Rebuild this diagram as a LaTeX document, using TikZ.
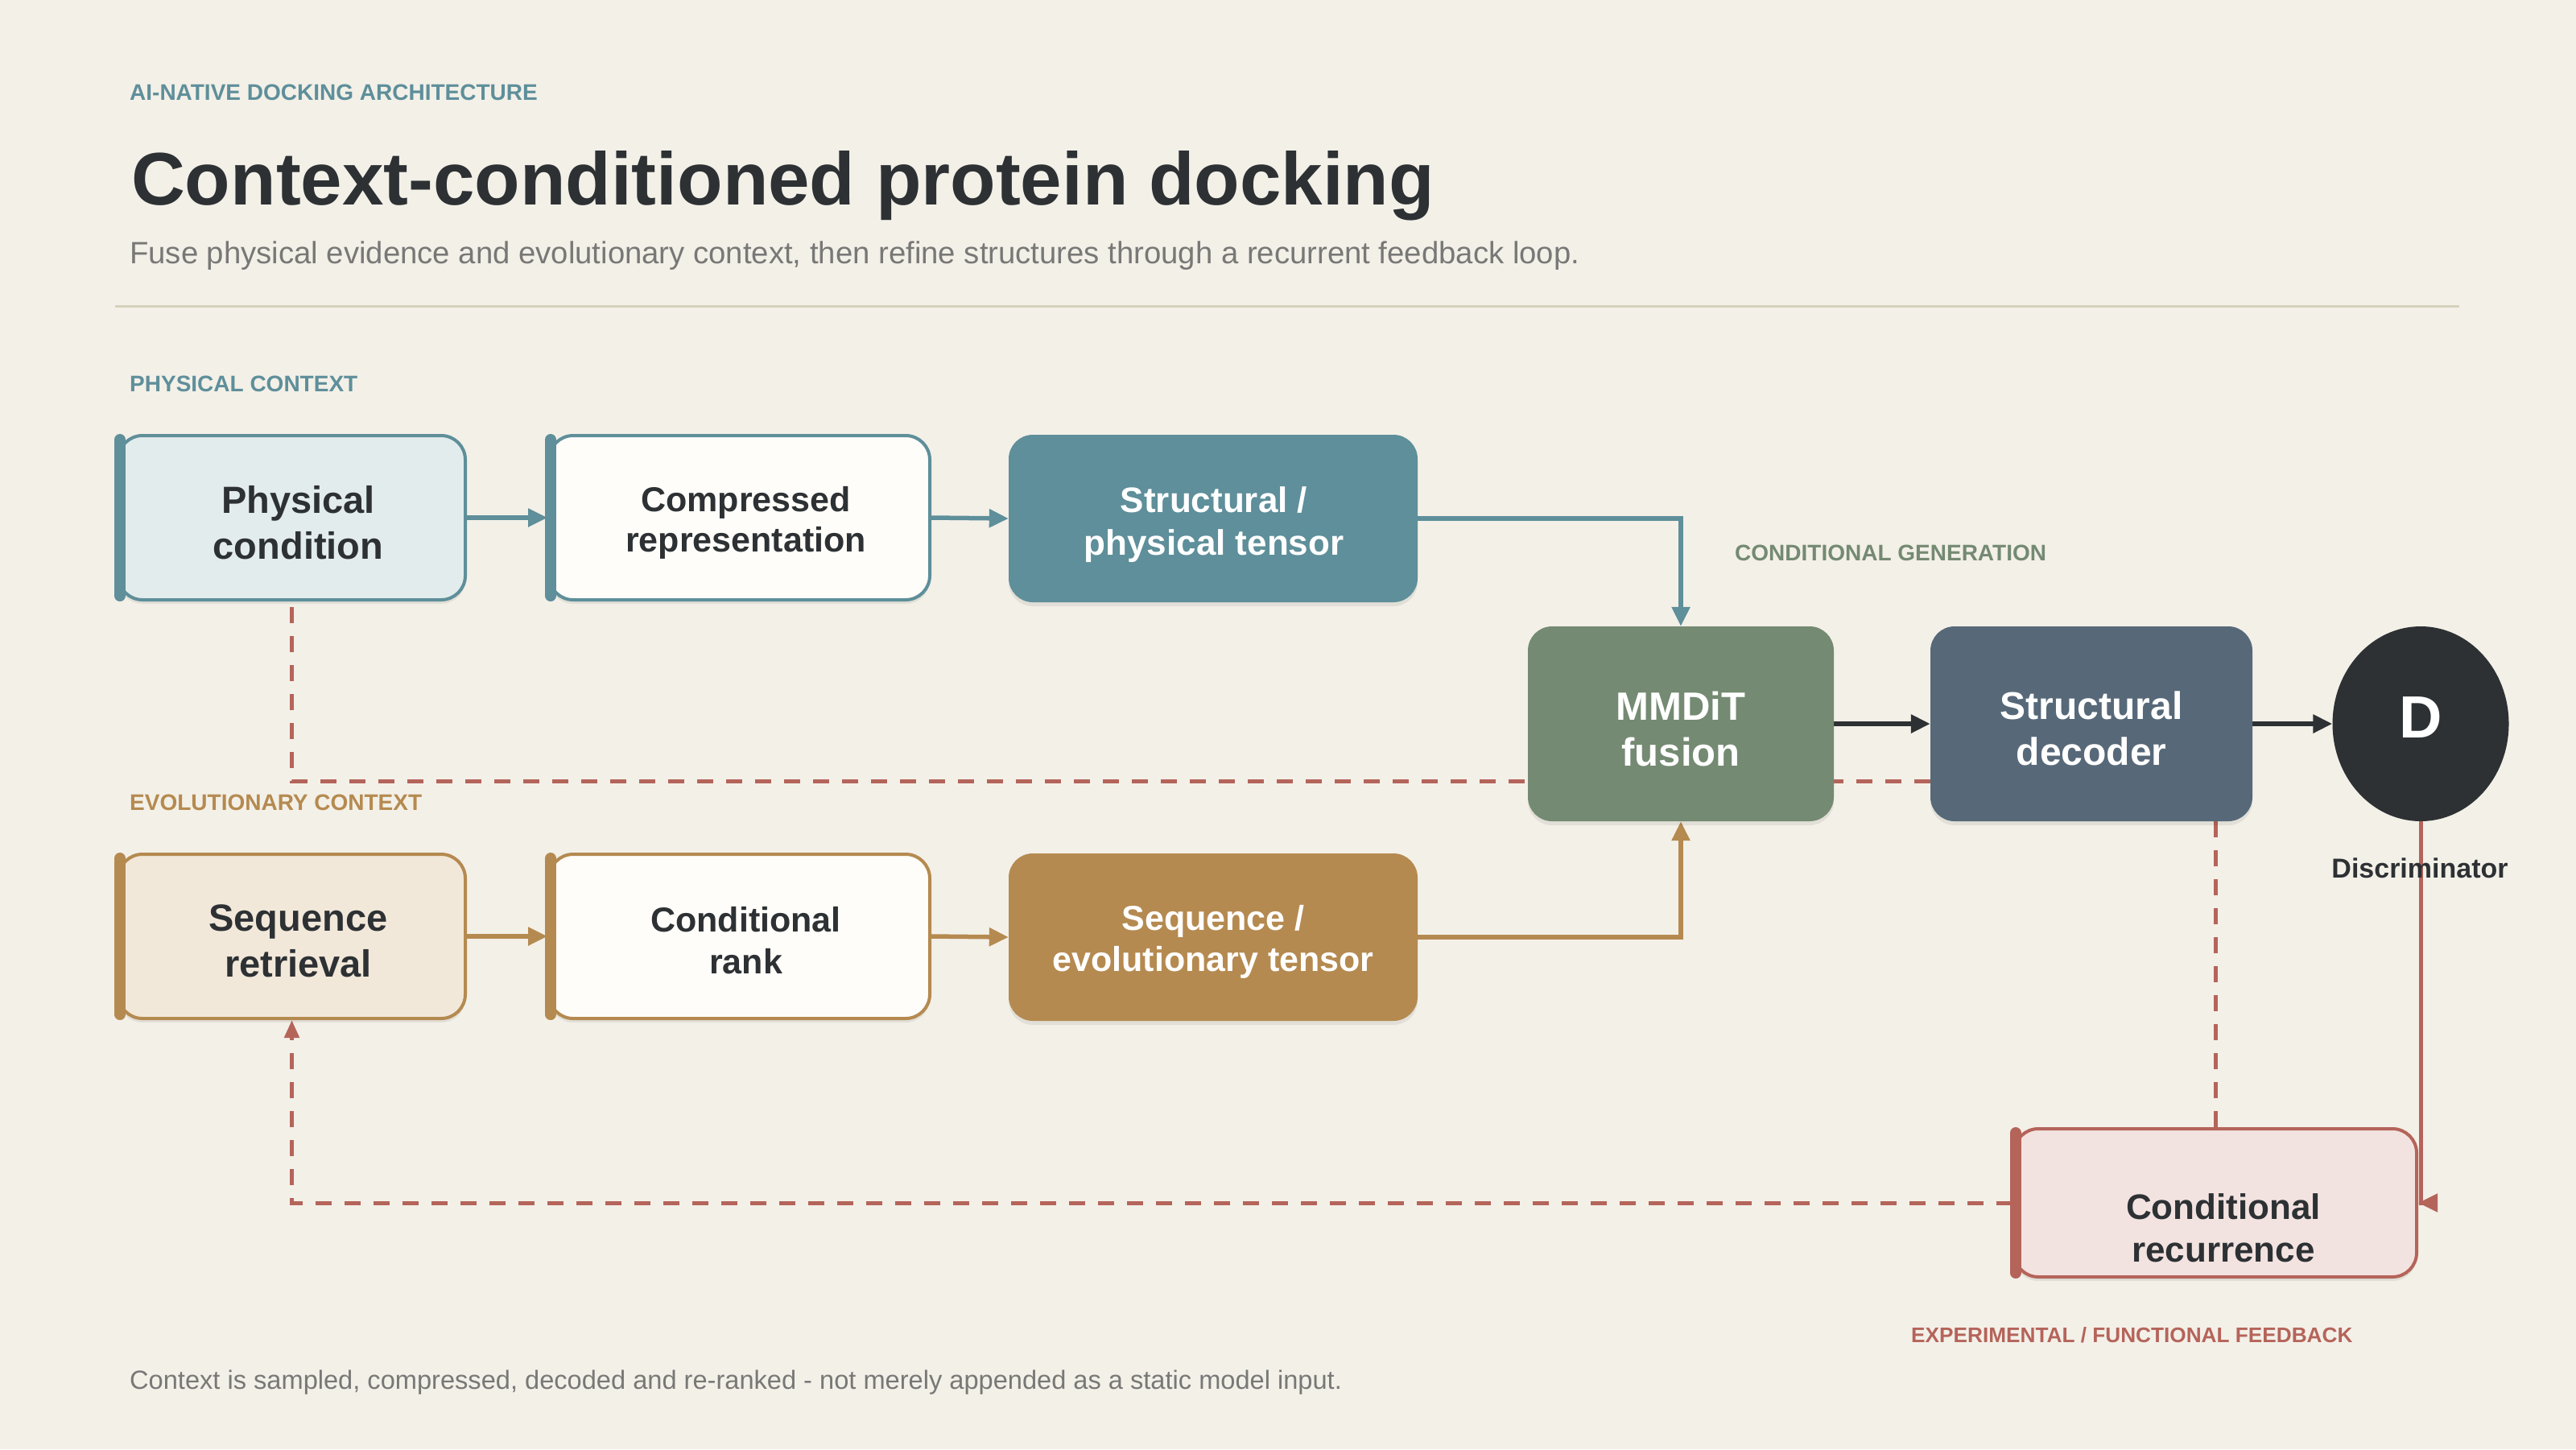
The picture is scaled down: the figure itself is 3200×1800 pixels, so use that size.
\documentclass[tikz,border=0pt]{standalone}
\usepackage{fontspec}
\setmainfont{Liberation Sans}
\usetikzlibrary{arrows.meta,shapes.geometric,backgrounds,shadows}
\definecolor{cbg}{HTML}{F3F0E8}
\definecolor{cteal}{HTML}{5E8F9A}
\definecolor{ctealfill}{HTML}{E3ECEC}
\definecolor{cochre}{HTML}{B58A50}
\definecolor{cochrefill}{HTML}{F2E8DA}
\definecolor{csage}{HTML}{748A72}
\definecolor{cslate}{HTML}{576979}
\definecolor{cink}{HTML}{2D3134}
\definecolor{crust}{HTML}{B5645A}
\definecolor{crustfill}{HTML}{F3E3E0}
\definecolor{cpaper}{HTML}{FFFDF9}
\definecolor{csub}{HTML}{787876}
\definecolor{crule}{HTML}{D5D2BC}
\tikzset{
  softshadow/.style={drop shadow={shadow xshift=0pt, shadow yshift=-5pt, opacity=0.07, fill=black}},
  obox/.style n args={2}{draw=#1, fill=#2, line width=4pt, rounded corners=30pt, inner sep=0pt, softshadow},
  fbox/.style={fill=#1, draw=none, rounded corners=30pt, inner sep=0pt, softshadow},
  btxt/.style={inner sep=0pt, align=center, text=cink},
  wtxt/.style={inner sep=0pt, align=center, text=white},
  accent/.style={line width=14pt, line cap=round, draw=#1},
  kick/.style={anchor=base west, inner sep=0pt, font=\fontsize{28}{32}\selectfont\bfseries},
  tealline/.style={draw=cteal, line width=5.5pt, -{Triangle[length=24pt,width=22pt]}},
  ochreline/.style={draw=cochre, line width=5.5pt, -{Triangle[length=24pt,width=22pt]}},
  inkline/.style={draw=cink, line width=6pt, -{Triangle[length=24pt,width=22pt]}},
  fbdash/.style={draw=crust, line width=5pt, dash pattern=on 20pt off 16pt},
  fbsolid/.style={draw=crust, line width=5pt},
}
\begin{document}
\begin{tikzpicture}[x=1pt,y=-1pt]
\begin{pgfonlayer}{background}
\fill[cbg] (0,0) rectangle (3200,1800);
\end{pgfonlayer}
\useasboundingbox (0,0) rectangle (3200,1800);

% header
\node[kick, text=cteal] (kicker) at (161,124) {AI-NATIVE DOCKING ARCHITECTURE};
\node[anchor=base west, inner sep=0pt, font=\fontsize{92.5}{100}\selectfont\bfseries, text=cink] (title) at (163,254) {Context-conditioned protein docking};
\node[anchor=base west, inner sep=0pt, font=\fontsize{38.3}{44}\selectfont, text=csub] (subtitle) at (161,327) {Fuse physical evidence and evolutionary context, then refine structures through a recurrent feedback loop.};
\draw[crule, line width=3pt] (143,380) -- (3055,380);

% section labels
\node[kick, text=cteal] (physlab) at (161,486) {PHYSICAL CONTEXT};
\node[kick, text=cochre] (evolab) at (161,1006) {EVOLUTIONARY CONTEXT};
\node[kick, text=csage] (genlab) at (2155,696) {CONDITIONAL GENERATION};
\node[kick, text=crust, font=\fontsize{26.2}{32}\selectfont\bfseries] (fblab) at (2374,1667) {EXPERIMENTAL / FUNCTIONAL FEEDBACK};
\node[anchor=base west, inner sep=0pt, font=\fontsize{32.6}{38}\selectfont, text=csub] (footer) at (161,1725) {Context is sampled, compressed, decoded and re-ranked - not merely appended as a static model input.};

% physical row
\node[obox={cteal}{ctealfill}, minimum width=431pt, minimum height=204pt] (phys) at (362.5,643) {};
\node[btxt, font=\fontsize{47}{57}\selectfont\bfseries] (physT) at ([xshift=8pt,yshift=-6pt]phys.center) {Physical\\condition};
\node[obox={cteal}{cpaper}, minimum width=473pt, minimum height=204pt] (comp) at (918.5,643) {};
\node[btxt, font=\fontsize{43}{50}\selectfont\bfseries] (compT) at ([xshift=8pt,yshift=-6pt]comp.center) {Compressed\\representation};
\node[fbox=cteal, minimum width=508pt, minimum height=208pt] (stens) at (1507,644) {};
\node[wtxt, font=\fontsize{44}{53}\selectfont\bfseries] (stensT) at ([xshift=1pt,yshift=-8pt]stens.center) {Structural /\\physical tensor};

% evolutionary row
\node[obox={cochre}{cochrefill}, minimum width=431pt, minimum height=204pt] (seq) at (362.5,1163) {};
\node[btxt, font=\fontsize{47}{57}\selectfont\bfseries] (seqT) at ([xshift=8pt,yshift=-6pt]seq.center) {Sequence\\retrieval};
\node[obox={cochre}{cpaper}, minimum width=473pt, minimum height=204pt] (rank) at (918.5,1163) {};
\node[btxt, font=\fontsize{43}{52}\selectfont\bfseries] (rankT) at ([xshift=8pt,yshift=-5pt]rank.center) {Conditional\\rank};
\node[fbox=cochre, minimum width=508pt, minimum height=208pt] (etens) at (1507,1164) {};
\node[wtxt, font=\fontsize{43}{51}\selectfont\bfseries] (etensT) at ([yshift=-6pt]etens.center) {Sequence /\\evolutionary tensor};

% generation
\node[fbox=csage, minimum width=380pt, minimum height=242pt] (mmdit) at (2088,899) {};
\node[wtxt, font=\fontsize{49}{57}\selectfont\bfseries] (mmditT) at ([yshift=-6pt]mmdit.center) {MMDiT\\fusion};
\node[fbox=cslate, minimum width=400pt, minimum height=242pt] (dec) at (2598,899) {};
\node[wtxt, font=\fontsize{48}{57}\selectfont\bfseries] (decT) at ([yshift=-6pt]dec.center) {Structural\\decoder};
\node[ellipse, fill=cink, minimum width=219pt, minimum height=242pt, inner sep=0pt, text=white, text depth=16pt, font=\fontsize{74}{80}\selectfont\bfseries] (D) at (3007,899) {D};
\node[inner sep=0pt, font=\fontsize{34}{40}\selectfont\bfseries, text=cink] (disc) at (3006,1078) {Discriminator};

% feedback
\node[obox={crust}{crustfill}, minimum width=500pt, minimum height=184pt] (rec) at (2752,1494) {};
\node[btxt, font=\fontsize{44}{53}\selectfont\bfseries] (recT) at ([xshift=10pt,yshift=-31pt]rec.center) {Conditional\\recurrence};

% accent bars
\draw[accent=cteal] ([xshift=4pt,yshift=-7pt]phys.north west) -- ([xshift=4pt,yshift=7pt]phys.south west);
\draw[accent=cteal] ([xshift=4pt,yshift=-7pt]comp.north west) -- ([xshift=4pt,yshift=7pt]comp.south west);
\draw[accent=cochre] ([xshift=4pt,yshift=-7pt]seq.north west) -- ([xshift=4pt,yshift=7pt]seq.south west);
\draw[accent=cochre] ([xshift=4pt,yshift=-7pt]rank.north west) -- ([xshift=4pt,yshift=7pt]rank.south west);
\draw[accent=crust] ([xshift=4pt,yshift=-7pt]rec.north west) -- ([xshift=4pt,yshift=7pt]rec.south west);

% connectors
\begin{pgfonlayer}{background}
\draw[fbdash] ([yshift=50pt]dec.south west) -| (phys.south);
\draw[fbdash] (rec.north) -- (rec.north |- dec.south);
\draw[fbdash, -{Triangle[length=22pt,width=18pt]}] (rec.west) -| (seq.south);
\draw[fbsolid, -{Triangle[length=24pt,width=22pt]}] (D.south) |- (rec.east);
\draw[tealline] (phys.east) -- (comp.west);
\draw[tealline] (comp.east) -- (stens.west);
\draw[tealline] (stens.east) -| (mmdit.north);
\draw[ochreline] (seq.east) -- (rank.west);
\draw[ochreline] (rank.east) -- (etens.west);
\draw[ochreline] (etens.east) -| (mmdit.south);
\draw[inkline] (mmdit.east) -- (dec.west);
\draw[inkline] (dec.east) -- (D.west);
\end{pgfonlayer}
\end{tikzpicture}
\end{document}
